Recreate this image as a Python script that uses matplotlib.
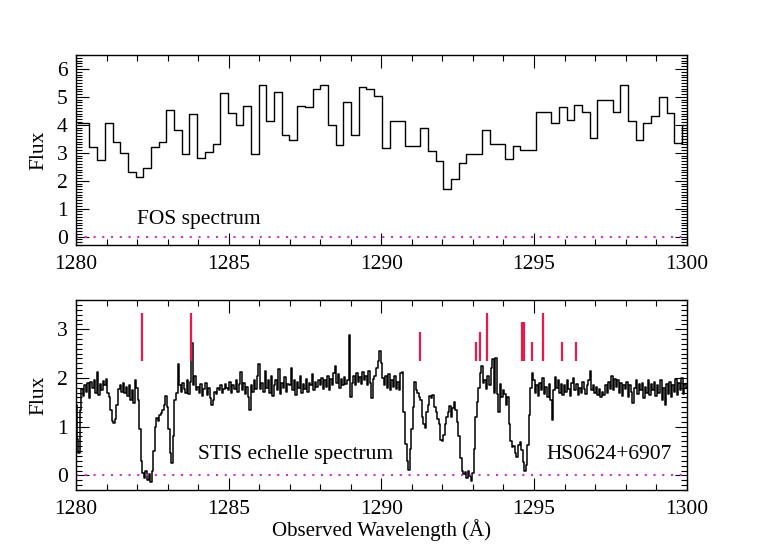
import numpy as np
import matplotlib
matplotlib.use("Agg")
import matplotlib.pyplot as plt
from matplotlib.ticker import MultipleLocator

plt.rcParams["font.family"] = ["Liberation Serif", "DejaVu Serif"]

# FOS spectrum: binned flux, bins of ~0.252 A starting at 1279.936 A
fos_start = 1279.936
fos_width = 0.252
fos_flux = [
    4.08, 4.08, 3.20, 2.75, 4.06, 3.38, 2.99, 2.30, 2.13, 2.45,
    3.19, 3.39, 4.52, 3.80, 2.94, 4.39, 2.80, 3.02, 3.33, 5.13,
    4.44, 4.01, 4.68, 2.96, 5.42, 4.14, 5.18, 3.65, 3.45, 4.69,
    4.65, 5.29, 5.42, 4.01, 3.29, 4.81, 3.64, 5.35, 5.27, 5.02,
    3.17, 4.12, 4.14, 3.25, 3.25, 3.87, 3.07, 2.71, 1.70, 2.06,
    2.63, 2.95, 2.95, 3.83, 3.31, 3.31, 2.77, 3.26, 3.11, 3.11,
    4.45, 4.45, 4.06, 4.65, 4.17, 4.71, 4.46, 3.52, 4.88, 4.88,
    4.45, 5.43, 4.14, 3.46, 4.05, 4.31, 4.98, 4.44, 3.35, 4.00,
]

# STIS echelle spectrum, sampled every 0.05 A from 1280.00 to 1300.00
stis_step = 0.05
stis_flux = [
    # 1280
    1.45, 0.75, 0.45, 1.35, 1.78, 1.62, 1.85, 1.72, 1.90, 1.58,
    1.92, 1.80, 1.95, 1.70, 2.12, 1.65, 1.88, 1.76, 1.93, 1.85,
    # 1281
    1.98, 1.70, 1.60, 1.35, 1.12, 1.08, 1.15, 1.45, 1.78, 1.85,
    1.72, 1.90, 1.70, 1.82, 1.62, 1.86, 1.55, 1.75, 1.48, 1.95,
    # 1282
    1.80, 1.55, 0.95, 0.30, 0.05, -0.05, 0.08, -0.10, 0.02, -0.13,
    0.10, 0.50, 1.00, 1.18, 1.12, 1.25, 1.28, 1.35, 1.45, 1.62,
    # 1283
    1.40, 0.95, 0.45, 0.25, 0.80, 1.55, 1.70, 2.28, 1.85, 1.72,
    1.90, 1.78, 1.70, 1.95, 1.68, 1.92, 2.72, 1.85, 2.05, 1.75,
    # 1284
    1.82, 1.70, 1.88, 1.62, 1.78, 1.90, 1.66, 1.80, 1.58, 1.45,
    1.55, 1.72, 1.68, 1.80, 1.75, 1.85, 1.70, 1.78, 1.88, 1.80,
    # 1285
    1.75, 1.92, 1.70, 1.85, 1.78, 1.95, 1.72, 1.88, 2.12, 1.75,
    1.90, 1.68, 1.82, 1.60, 1.35, 1.85, 1.72, 1.95, 1.78, 2.05,
    # 1286
    2.28, 1.78, 1.90, 1.72, 2.15, 1.80, 1.95, 1.70, 2.05, 1.62,
    1.85, 1.95, 1.75, 2.18, 1.68, 1.90, 1.80, 2.02, 1.72, 1.88,
    # 1287
    1.85, 2.20, 1.75, 1.95, 1.65, 1.92, 1.80, 2.05, 1.70, 1.88,
    1.78, 1.98, 1.72, 1.90, 1.85, 2.08, 1.76, 1.92, 1.82, 1.96,
    # 1288
    1.85, 2.00, 1.78, 1.95, 1.82, 2.05, 1.75, 1.98, 1.85, 2.10,
    2.25, 1.90, 2.08, 1.80, 1.98, 1.85, 2.02, 1.88, 1.95, 2.88,
    # 1289
    1.60, 1.90, 2.05, 1.85, 2.10, 1.92, 2.02, 1.88, 2.12, 1.95,
    2.05, 1.85, 2.15, 1.90, 1.58, 1.98, 2.05, 2.20, 2.35, 2.55,
    # 1290
    2.30, 2.00, 1.85, 2.05, 1.80, 2.08, 1.75, 1.95, 1.82, 2.05,
    1.78, 1.92, 1.75, 2.10, 2.12, 1.30, 0.65, 0.30, 0.12, 0.55,
    # 1291
    0.95, 1.40, 1.92, 1.75, 1.70, 1.60, 1.55, 1.20, 1.05, 0.98,
    1.30, 1.45, 1.62, 1.58, 1.65, 1.40, 1.30, 1.15, 1.05, 0.72,
    # 1292
    0.70, 0.82, 1.05, 1.20, 1.30, 1.42, 1.20, 1.38, 1.50, 1.35,
    1.10, 0.80, 0.35, 0.10, 0.02, 0.06, -0.05, 0.08, -0.02, -0.12,
    # 1293
    0.05, 0.55, 1.20, 1.50, 1.80, 2.10, 2.25, 1.90, 1.95, 1.78,
    2.05, 1.85, 2.20, 2.38, 1.70, 2.40, 1.68, 1.30, 1.88, 1.60,
    # 1294
    1.75, 1.68, 1.45, 1.60, 1.05, 0.70, 0.58, 0.60, 0.45, 0.38,
    0.62, 0.68, 0.52, 0.28, 0.08, 0.22, 0.62, 1.25, 1.80, 2.10,
    # 1295
    1.95, 1.70, 1.85, 1.62, 1.90, 1.75, 2.00, 1.68, 1.82, 1.60,
    1.88, 1.55, 1.14, 1.75, 2.02, 1.80, 1.95, 1.70, 1.88, 1.65,
    # 1296
    1.85, 1.72, 1.95, 1.78, 1.62, 1.90, 2.00, 1.75, 1.88, 1.65,
    1.80, 1.70, 1.92, 1.78, 1.68, 1.85, 1.95, 2.15, 1.75, 1.85,
    # 1297
    1.70, 1.82, 1.65, 1.78, 1.60, 1.72, 1.65, 1.85, 1.70, 1.92,
    1.78, 2.05, 1.75, 1.98, 1.82, 1.95, 1.70, 1.90, 1.62, 1.85,
    # 1298
    1.78, 1.92, 1.60, 1.85, 1.72, 1.48, 1.80, 1.95, 1.68, 1.88,
    1.75, 1.90, 1.58, 1.82, 1.70, 1.95, 1.65, 1.88, 1.75, 1.92,
    # 1299
    1.62, 1.85, 1.70, 1.95, 1.55, 1.80, 1.45, 1.88, 1.68, 1.92,
    1.60, 1.85, 1.72, 1.98, 1.65, 1.90, 1.75, 2.00, 1.68, 1.88,
    # 1300
    1.80,
]

# absorption line markers (wavelength, top of tick); all start at flux 2.35
mark_wave = [1282.17, 1283.75, 1291.28, 1293.09, 1293.22, 1293.46,
             1294.62, 1294.68, 1294.93, 1295.30, 1295.90, 1296.39]
mark_top = [3.33, 3.33, 2.95, 2.74, 2.95, 3.33,
            3.14, 3.14, 2.74, 3.33, 2.74, 2.74]
mark_base = 2.35

fos_wave = fos_start + fos_width * (np.arange(len(fos_flux)) + 0.5)
stis_wave = 1280.0 + stis_step * np.arange(len(stis_flux))

DOT = "#d030d8"
RED = "#e8194b"

fig = plt.figure(figsize=(7.63, 5.45), dpi=100)
ax1 = fig.add_axes([0.0996, 0.5505, 0.8004, 0.3486])
ax2 = fig.add_axes([0.0996, 0.1009, 0.8004, 0.3486])


def style(ax):
    ax.set_xlim(1280, 1300)
    ax.xaxis.set_major_locator(MultipleLocator(5))
    ax.xaxis.set_minor_locator(MultipleLocator(1))
    ax.yaxis.set_major_locator(MultipleLocator(1))
    ax.yaxis.set_minor_locator(MultipleLocator(0.1))
    ax.tick_params(which="both", direction="in", top=True, right=True,
                   labelsize=15.5, width=0.8)
    ax.tick_params(axis="x", pad=7)
    ax.tick_params(axis="y", pad=6)
    ax.tick_params(which="major", length=9)
    ax.tick_params(which="minor", length=4)
    for s in ax.spines.values():
        s.set_linewidth(1.0)
    ax.set_ylabel("Flux", fontsize=15.5)
    ax.yaxis.set_label_coords(-0.045, 0.5)


# top panel: FOS
ax1.step(fos_wave, fos_flux, where="mid", color="black", lw=1.0)
ax1.axhline(0, color=DOT, lw=1.5, linestyle=(0, (1, 3.2)))
ax1.set_ylim(-0.3, 6.5)
style(ax1)
ax1.text(1282.0, 0.62, "FOS spectrum", fontsize=15.5, va="center")

# bottom panel: STIS
ax2.plot(stis_wave, stis_flux, color="black", lw=1.1, drawstyle="steps-mid")
ax2.axhline(0, color=DOT, lw=1.5, linestyle=(0, (1, 3.2)))
ax2.vlines(mark_wave, mark_base, mark_top, color=RED, lw=1.6)
ax2.set_ylim(-0.3, 3.6)
style(ax2)
ax2.text(1284.0, 0.43, "STIS echelle spectrum", fontsize=15.5, va="center")
ax2.text(1295.4, 0.43, "HS0624+6907", fontsize=15.5, va="center")
ax2.set_xlabel("Observed Wavelength (Å)", fontsize=15, labelpad=0)

fig.savefig("out.png", dpi=100)
